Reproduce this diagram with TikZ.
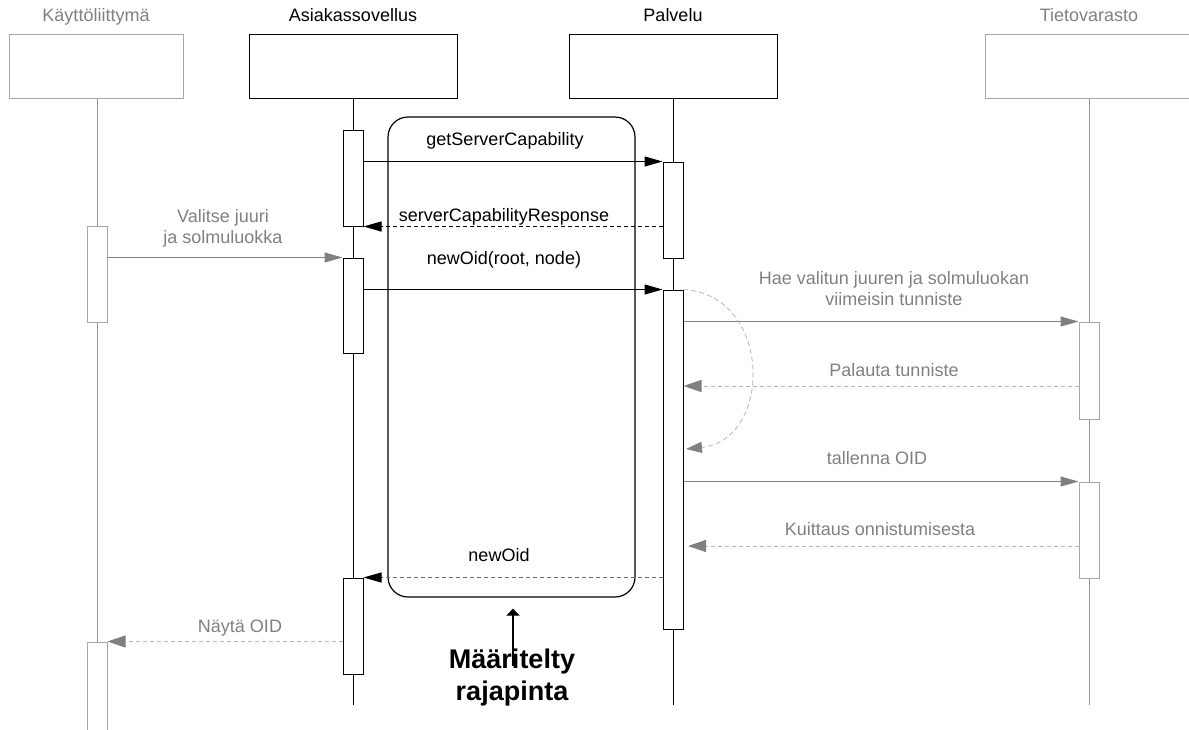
\documentclass[tikz,border=0pt]{standalone}
\usepackage{fontspec}
\setmainfont{Liberation Sans}
\usetikzlibrary{positioning,arrows.meta,calc}

\definecolor{boxgrey}{RGB}{166,166,166}
\definecolor{linegrey}{RGB}{150,150,150}
\definecolor{msggrey}{RGB}{128,128,128}
\definecolor{txtgrey}{RGB}{128,128,128}
\definecolor{palegrey}{RGB}{180,180,180}
\definecolor{dashgrey}{RGB}{110,110,110}

\begin{document}
\begin{tikzpicture}[
	x=0.5pt, y=-0.5pt,
	every node/.style={font=\fontsize{9}{10.5}\selectfont},
	headbox/.style={draw, line width=0.5pt, fill=white, minimum width=104pt, minimum height=32pt, inner sep=0pt},
	headlbl/.style={inner sep=0pt, anchor=base},
	actbox/.style={draw, line width=0.5pt, fill=white, minimum width=10pt, inner sep=0pt},
	msglbl/.style={inner sep=0pt, anchor=base, align=center},
	lifeline/.style={line width=0.5pt},
	call/.style={line width=0.5pt, -{Triangle[length=9pt,width=5pt]}},
	gcall/.style={call, draw=msggrey},
	reply/.style={line width=0.5pt, dash pattern=on 2pt off 1.5pt, -{Triangle[length=9pt,width=5pt]}},
	greply/.style={reply, draw=palegrey, -{Triangle[length=9pt,width=6pt,color=msggrey]}},
	selfcall/.style={line width=0.4pt, draw=palegrey, dash pattern=on 2.5pt off 1.5pt, -{Triangle[length=8pt,width=5.5pt,color=msggrey]}},
	]
	\useasboundingbox (0,0) rectangle (1189,729);

	%Heads
	\node[headbox, minimum width=87pt, draw=boxgrey] (hk) at (96,66) {};
	\node[headbox]                 (ha) at (353,66) {};
	\node[headbox]                 (hp) at (673,66) {};
	\node[headbox, draw=boxgrey]   (ht) at (1089,66) {};
	\node[above=6pt of hk, headlbl, text=txtgrey] (lk) {Käyttöliittymä};
	\node[above=6pt of ha, headlbl]               (la) {Asiakassovellus};
	\node[above=6pt of hp, headlbl]               (lp) {Palvelu};
	\node[above=6pt of ht, headlbl, text=txtgrey] (lt) {Tietovarasto};

	%Lifelines
	\coordinate (kend) at (97,740);
	\coordinate (aend) at (353,705);
	\coordinate (pend) at (673,705);
	\coordinate (tend) at (1089,705);
	\draw[lifeline, draw=linegrey] (hk.south -| kend) -- (kend);
	\draw[lifeline] (ha.south) -- (aend);
	\draw[lifeline] (hp.south) -- (pend);
	\draw[lifeline, draw=linegrey] (ht.south) -- (tend);

	%Activations
	\node[actbox, draw=boxgrey, minimum height=48pt]   (k1) at (97,274) {};
	\node[actbox, draw=boxgrey, minimum height=49pt]   (k2) at (97,691) {};
	\node[actbox, minimum height=48pt]                 (a1) at (353,178) {};
	\node[actbox, minimum height=47.5pt]               (a2) at (353,305.5) {};
	\node[actbox, minimum height=48pt]                 (a3) at (353,626) {};
	\node[actbox, minimum height=48pt]                 (p1) at (673,210) {};
	\node[actbox, minimum height=169.5pt]              (p2) at (673,459.5) {};
	\node[actbox, draw=boxgrey, minimum height=48.5pt] (t1) at (1089,370.5) {};
	\node[actbox, draw=boxgrey, minimum height=48pt]   (t2) at (1089,530) {};

	%Interface
	\node[draw, line width=0.6pt, rounded corners=10pt, minimum width=123.5pt, minimum height=240pt] (iface) at (511.5,357) {};

	%Messages
	\draw[call] (a1.east |- p1.north) -- (p1.north west);
	\draw[reply] (p1.west |- a1.south) -- (a1.south east);
	\draw[gcall] (k1.east |- a2.north) -- (a2.north west);
	\draw[call] (a2.east |- p2.north) -- (p2.north west);
	\draw[gcall] (p2.east |- t1.north) -- (t1.north west);
	\draw[greply] (t1.west |- 0,386) -- (p2.east |- 0,386);
	\draw[selfcall] (p2.north east) .. controls (773,295) and (773,440) .. (686,449);
	\draw[gcall] (p2.east |- t2.north) -- (t2.north west);
	\draw[greply] (t2.west |- 0,546) -- (688,546);
	\draw[reply, draw=dashgrey, -{Triangle[length=9pt,width=5pt,color=black]}] (p2.west |- a3.north) -- (a3.north east);
	\draw[greply] (a3.west |- k2.north) -- (k2.north east);

	%Labels
	\node[msglbl]                 (m1)  at (505,145) {getServerCapability};
	\node[msglbl]                 (m2)  at (504,221) {serverCapabilityResponse};
	\node[msglbl, text=txtgrey]   (m3)  at (223,243) {Valitse juuri\\ja solmuluokka};
	\node[msglbl]                 (m4)  at (504,264) {newOid(root, node)};
	\node[msglbl, text=txtgrey]   (m5)  at (894,305) {Hae valitun juuren ja solmuluokan\\viimeisin tunniste};
	\node[msglbl, text=txtgrey]   (m6)  at (894,376) {Palauta tunniste};
	\node[msglbl, text=txtgrey]   (m8)  at (877,464) {tallenna OID};
	\node[msglbl, text=txtgrey]   (m9)  at (880,535) {Kuittaus onnistumisesta};
	\node[msglbl]                 (m10) at (499,561) {newOid};
	\node[msglbl, text=txtgrey]   (m11) at (240,632) {Näytä OID};

	%Defined interface
	\node[font=\bfseries\fontsize{13.5}{16}\selectfont, align=center, anchor=base, inner sep=0pt] (rp) at (512,700) {Määritelty\\rajapinta};
	\coordinate (rpfoot) at (513,666);
	\draw[line width=0.6pt, -{Triangle[length=3.5pt,width=6.5pt]}] (rpfoot) -- ($(rpfoot |- iface.south)+(0,11)$);
\end{tikzpicture}
\end{document}
